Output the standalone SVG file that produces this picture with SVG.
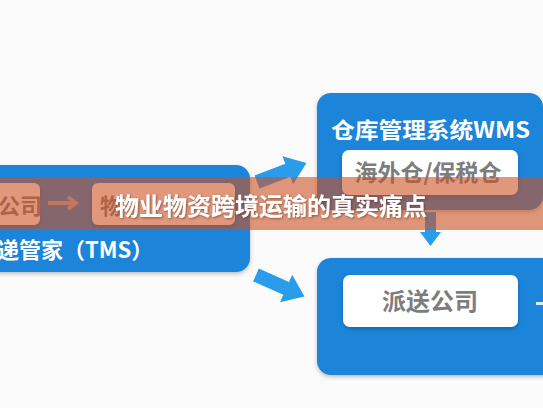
<svg xmlns="http://www.w3.org/2000/svg" width="543" height="408" viewBox="0 0 543 408">
<defs>
<filter id="sh" x="-10%" y="-10%" width="120%" height="130%">
<feDropShadow dx="0" dy="2" stdDeviation="2" flood-color="#000" flood-opacity="0.25"/>
</filter>
<filter id="tsh" x="-5%" y="-20%" width="110%" height="150%">
<feDropShadow dx="1" dy="1" stdDeviation="1" flood-color="#5a2a18" flood-opacity="0.6"/>
</filter>
</defs>
<style>
.box{fill:#1a85d9;filter:url(#sh)}
.inner{fill:#ffffff;filter:url(#sh)}
.wt{fill:#ffffff;font-family:"Noto Sans CJK SC","Noto Sans",sans-serif;font-weight:bold}
.gt{fill:#7d7d7d;font-family:"Noto Sans CJK SC","Noto Sans",sans-serif;font-weight:bold}
.arr{fill:#2a9cec}
</style>
<rect width="543" height="408" fill="#fbfbfb"/>
<g id="tms">
<rect class="box" x="-30" y="165" width="280" height="107" rx="14"/>
<rect class="inner" x="-20" y="183" width="60" height="42" rx="6"/>
<text class="gt" x="-2" y="214" font-size="22">公司</text>
<path d="M48,203 H74 M68,197 L76,203 L68,209" stroke="#b0b0b0" stroke-width="4" fill="none"/>
<rect class="inner" x="92" y="183" width="143" height="42" rx="6"/>
<text class="gt" x="100" y="214" font-size="22">物</text>
<text class="wt" x="-3" y="258" font-size="22">递管家（TMS）</text>
</g>
<g id="wms">
<rect class="box" x="317" y="93" width="226" height="117" rx="14"/>
<text class="wt" x="331" y="138" font-size="22" textLength="199" lengthAdjust="spacingAndGlyphs">仓库管理系统WMS</text>
<rect class="inner" x="342" y="150" width="176" height="45" rx="7"/>
<text class="gt" x="428" y="181" font-size="23" text-anchor="middle">海外仓/保税仓</text>
</g>
<g id="delivery">
<rect class="box" x="317" y="258" width="240" height="117" rx="14"/>
<rect class="inner" x="343" y="275" width="175" height="52" rx="7"/>
<text class="gt" x="430" y="310" font-size="24" text-anchor="middle">派送公司</text>
<rect x="536" y="302" width="7" height="3" fill="#d8ecff"/>
</g>
<g id="connectors">
<path class="arr" d="M0,-7 L33,-7 L33,-15 L53,0 L33,15 L33,7 L0,7 Z" transform="translate(257,182) rotate(-21)"/>
<path class="arr" d="M0,-7 L33,-7 L33,-15 L53,0 L33,15 L33,7 L0,7 Z" transform="translate(256,275) rotate(24)"/>
<path class="arr" d="M425,212 H436 V232 H441 L430.5,246 L420,232 H425 Z"/>
</g>
<rect x="0" y="177" width="543" height="53" fill="#cb5224" fill-opacity="0.6"/>
<text class="wt" x="271" y="215" font-size="24" text-anchor="middle" filter="url(#tsh)">物业物资跨境运输的真实痛点</text>
</svg>
